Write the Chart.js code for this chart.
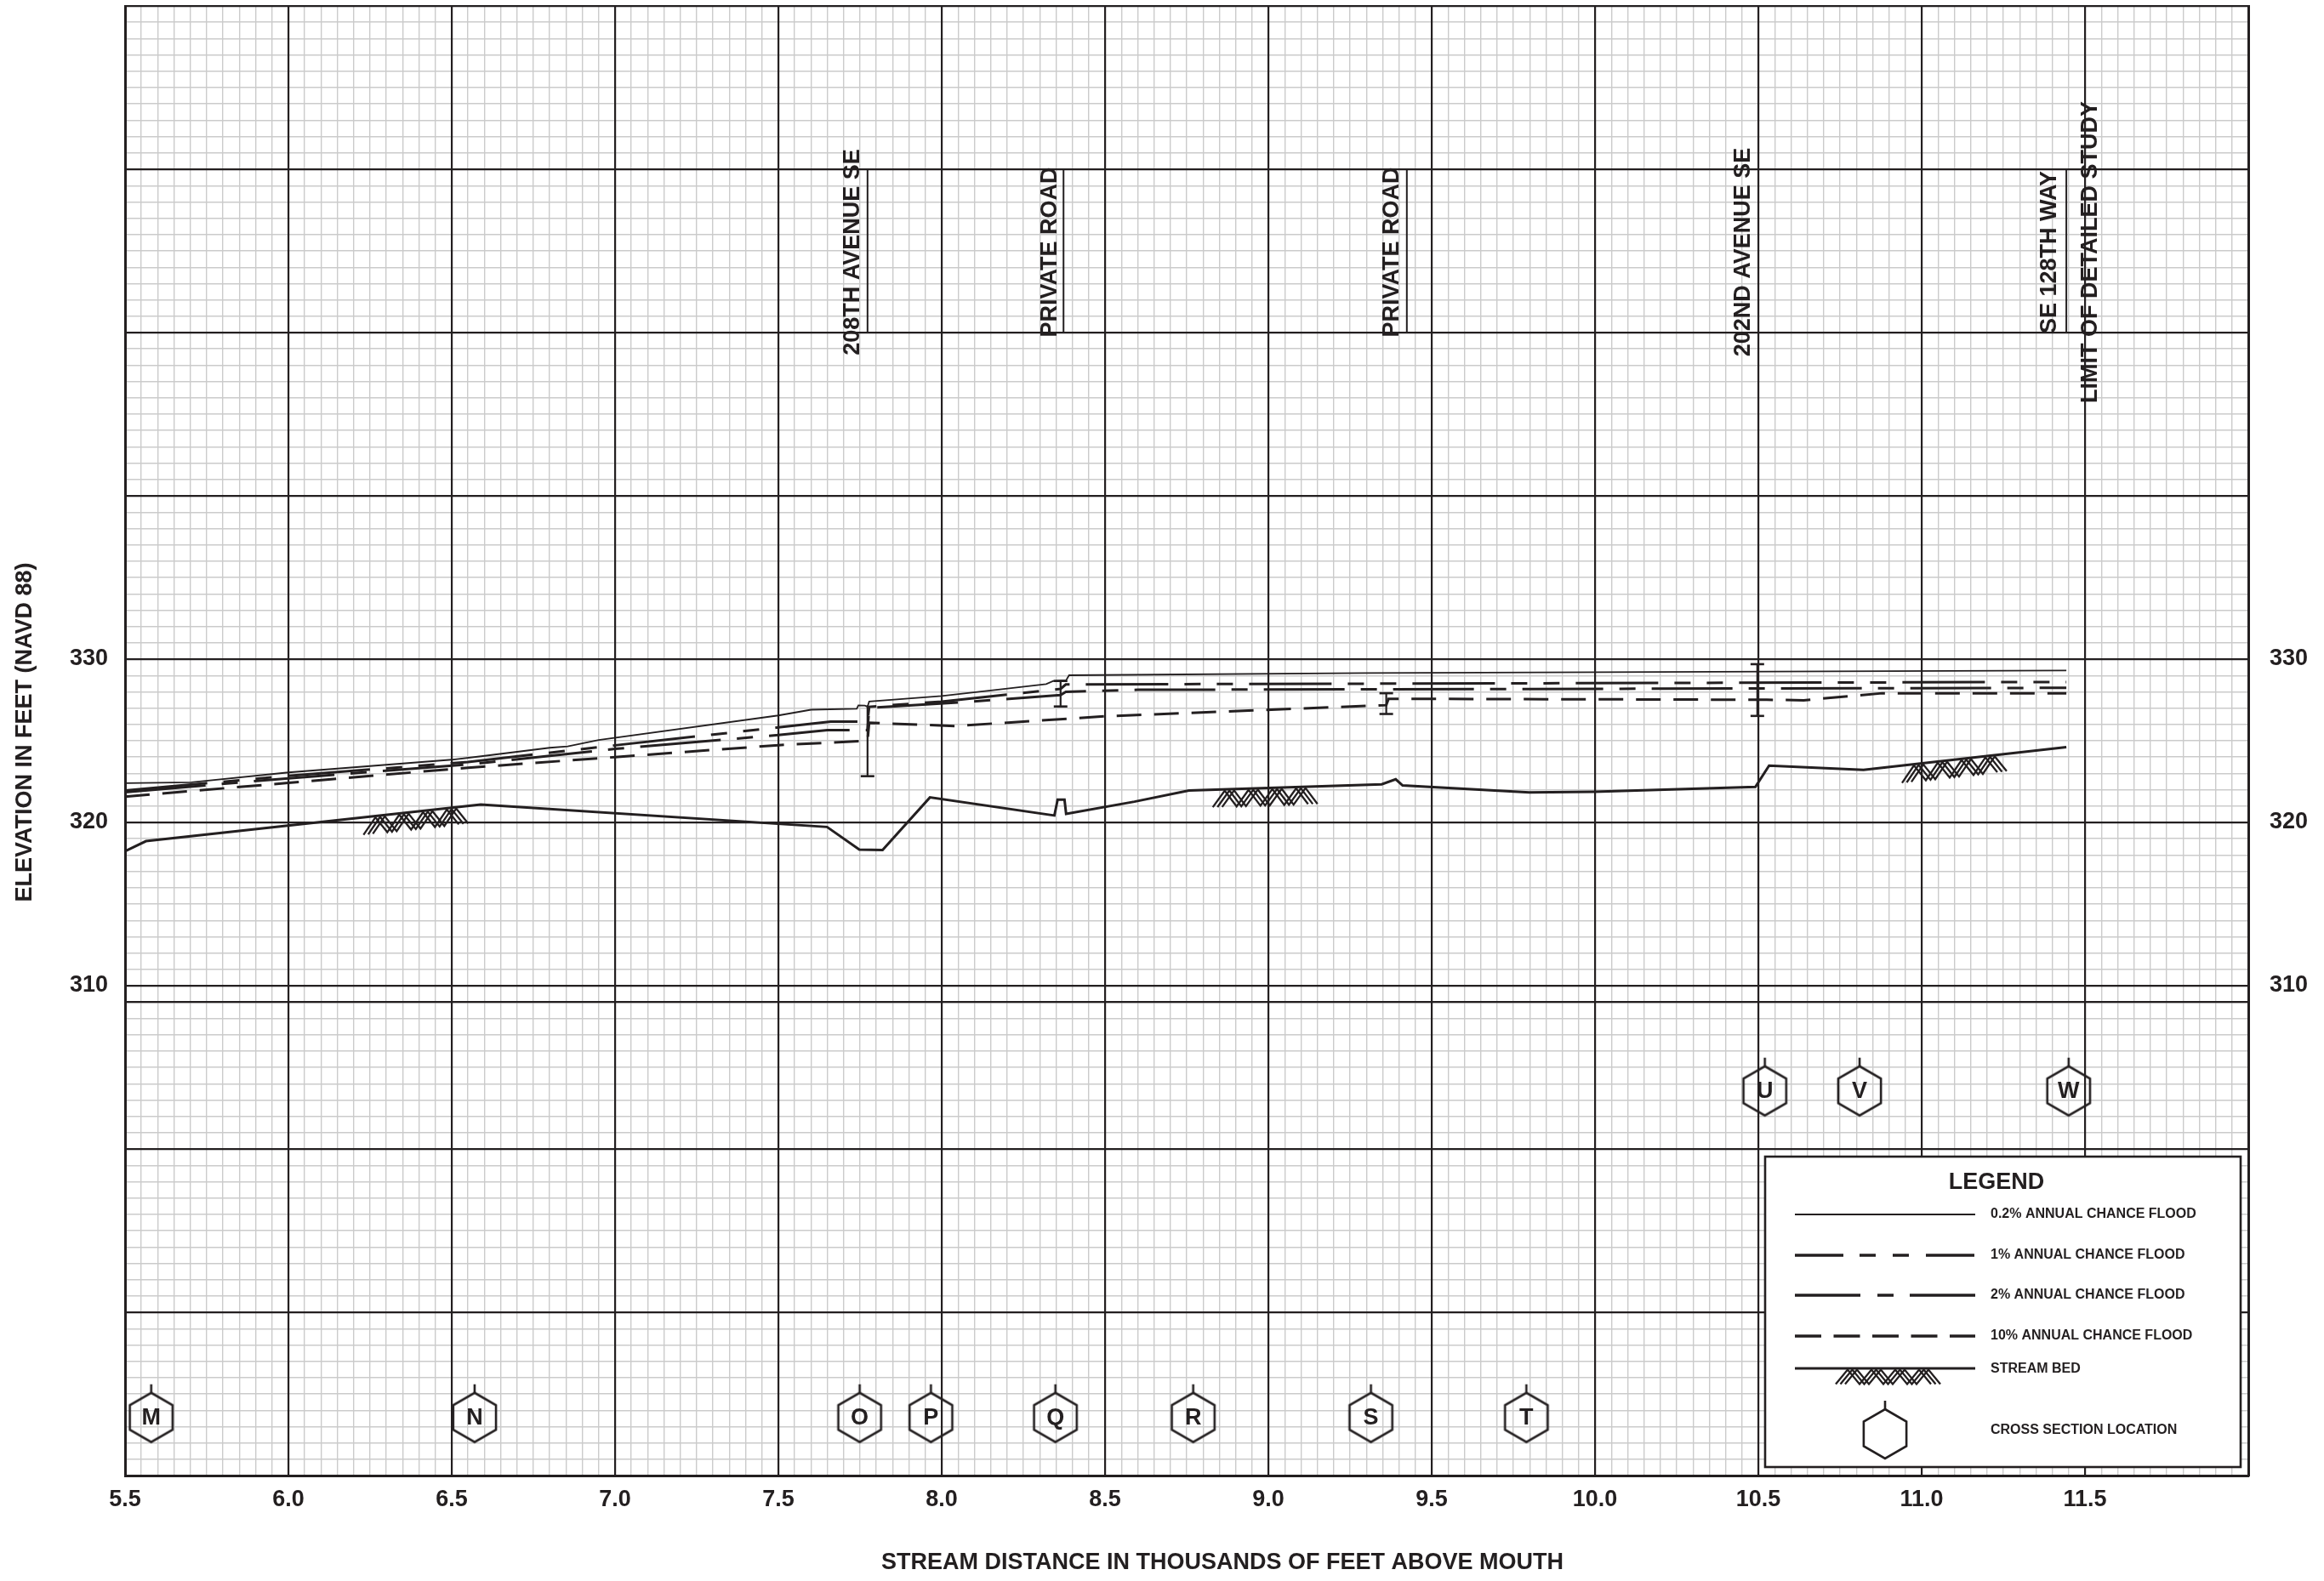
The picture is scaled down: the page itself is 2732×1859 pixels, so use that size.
<!DOCTYPE html>
<html><head><meta charset="utf-8">
<script src="https://cdn.jsdelivr.net/npm/chart.js"></script>
<style>html,body{margin:0;padding:0;background:#fff;}canvas{display:block;}</style>
</head><body>
<canvas id="c" width="2732" height="1859"></canvas>
<script>
// ---------------- DATA ----------------
const xTickLabels = ['5.5','6.0','6.5','7.0','7.5','8.0','8.5','9.0','9.5','10.0','10.5','11.0','11.5'];
const yTickLabels = [310, 320, 330];
const yMajorLines = [280, 290, 300, 309, 310, 320, 330, 340, 350, 360, 370];

const bedX = [5.5, 5.564, 6.589, 7.649, 7.748, 7.819, 7.964, 8.345, 8.355, 8.376, 8.381, 8.59, 8.757, 9.347, 9.39, 9.411, 9.799, 9.997, 10.491, 10.533, 10.822, 11.443];
const bedY = [318.23, 318.85, 321.09, 319.72, 318.33, 318.31, 321.53, 320.42, 321.39, 321.39, 320.52, 321.27, 321.95, 322.33, 322.64, 322.26, 321.83, 321.88, 322.17, 323.48, 323.22, 324.61];

const flood02X = [5.5, 5.703, 6.0, 6.5, 6.59, 6.8, 6.855, 6.95, 7.5, 7.6, 7.74, 7.745, 7.765, 7.773, 7.778, 8.0, 8.173, 8.32, 8.342, 8.381, 8.39, 9.3, 11.443];
const flood02Y = [322.40, 322.45, 323.06, 323.84, 324.05, 324.57, 324.66, 325.04, 326.55, 326.90, 326.96, 327.17, 327.15, 327.08, 327.40, 327.74, 328.13, 328.47, 328.66, 328.70, 329.01, 329.15, 329.30];

const flood1X = [5.5, 6.0, 6.55, 7.0, 7.5, 7.66, 7.773, 7.778, 8.0, 8.364, 8.38, 11.443];
const flood1Y = [321.95, 322.85, 323.70, 324.72, 325.82, 326.17, 326.17, 327.08, 327.40, 328.18, 328.45, 328.60];

const flood2X = [5.5, 6.0, 6.55, 7.0, 7.5, 7.65, 7.773, 7.778, 8.094, 8.32, 8.364, 8.38, 8.6, 11.443];
const flood2Y = [321.85, 322.70, 323.55, 324.50, 325.35, 325.65, 325.65, 327.02, 327.40, 327.74, 327.80, 328.00, 328.12, 328.24];

const flood10X = [5.5, 6.0, 6.55, 7.0, 7.5, 7.773, 7.778, 8.04, 8.5, 9.361, 9.368, 10.526, 10.639, 10.879, 11.443];
const flood10Y = [321.58, 322.42, 323.35, 324.00, 324.73, 325.00, 326.10, 325.90, 326.50, 327.18, 327.57, 327.51, 327.48, 327.91, 327.91];

const bridgeX = [7.773, 8.364, 9.361, 10.497];
const bridgeTop = [327.17, 328.66, 327.91, 329.69];
const bridgeBottom = [322.83, 327.10, 326.64, 326.52];
const bridgeTopCap = [false, true, true, true];

const sectionLetters = ['M','N','O','P','Q','R','S','T','U','V','W'];
const sectionX = [5.58, 6.57, 7.749, 7.967, 8.348, 8.77, 9.314, 9.79, 10.52, 10.81, 11.45];
const sectionY = [283.56, 283.56, 283.56, 283.56, 283.56, 283.56, 283.56, 283.56, 303.56, 303.56, 303.56];

const roadNames = ['208TH AVENUE SE', 'PRIVATE ROAD', 'PRIVATE ROAD', '202ND AVENUE SE', 'SE 128TH WAY', 'LIMIT OF DETAILED STUDY'];
const roadX = [7.773, 8.373, 9.424, 10.5, 11.443, 11.5];
const roadMarkBottom = 350, roadMarkTop = 360, roadLabelElev = 354.92;

const hatchStartX = [6.23, 8.83, 10.94];

const legendLabels = ['0.2% ANNUAL CHANCE FLOOD', '1% ANNUAL CHANCE FLOOD', '2% ANNUAL CHANCE FLOOD', '10% ANNUAL CHANCE FLOOD', 'STREAM BED', 'CROSS SECTION LOCATION'];

const xAxisTitle = 'STREAM DISTANCE IN THOUSANDS OF FEET ABOVE MOUTH';
const yAxisTitle = 'ELEVATION IN FEET (NAVD 88)';

// ---------------- STYLE ----------------
const INK = '#231f20';
const MINOR = '#cbcbcb';
const FONT = "'Liberation Sans', Arial, Helvetica, sans-serif";
const DASH1 = [97, 19, 19, 19, 19, 19];
const DASH2 = [95, 19, 19, 19];
const DASH10 = [29, 15];
const roadLabelShift = [-10, -8, -10, -10, -12, 14]; // px from mark line to text baseline

Chart.defaults.font.family = FONT;
Chart.defaults.color = INK;

function pts(xs, ys) { return xs.map((x, i) => ({x: x, y: ys[i]})); }

function hexImage() {
  const c = document.createElement('canvas');
  c.width = 64; c.height = 88;
  const g = c.getContext('2d');
  const cx = 32, cy = 44, R = 29;
  g.strokeStyle = INK; g.lineWidth = 2.6; g.lineJoin = 'miter';
  g.beginPath();
  for (let k = 0; k < 6; k++) {
    const a = -Math.PI / 2 + k * Math.PI / 3;
    const px = cx + R * Math.cos(a), py = cy + R * Math.sin(a);
    if (k) g.lineTo(px, py); else g.moveTo(px, py);
  }
  g.closePath(); g.stroke();
  g.beginPath(); g.moveTo(cx, cy - R); g.lineTo(cx, cy - R - 10); g.stroke();
  return c;
}
const HEX = hexImage();

function lineDs(label, xs, ys, width, dash) {
  return {label: label, data: pts(xs, ys), showLine: true, borderColor: INK, borderWidth: width,
          borderDash: dash || [], pointRadius: 0, tension: 0, fill: false, borderCapStyle: 'butt', borderJoinStyle: 'miter'};
}

const datasets = [];
datasets.push(lineDs('Stream bed', bedX, bedY, 3));
datasets.push(lineDs('0.2%', flood02X, flood02Y, 1.8));
datasets.push(lineDs('1%', flood1X, flood1Y, 3, DASH1));
datasets.push(lineDs('2%', flood2X, flood2Y, 3, DASH2));
datasets.push(lineDs('10%', flood10X, flood10Y, 3, DASH10));
bridgeX.forEach((bx, i) => {
  datasets.push({label: 'bridge' + i, data: [{x: bx, y: bridgeTop[i]}, {x: bx, y: bridgeBottom[i]}],
    showLine: true, borderColor: INK, borderWidth: 2.2, pointStyle: 'line',
    pointRadius: [bridgeTopCap[i] ? 8 : 0, 8], pointBorderColor: INK, pointBorderWidth: 2.6});
});
roadX.forEach((rx, i) => {
  datasets.push({label: 'road' + i, data: [{x: rx, y: roadMarkBottom}, {x: rx, y: roadMarkTop}],
    showLine: true, borderColor: INK, borderWidth: 2, pointRadius: 0});
});
datasets.push({label: 'sections', data: pts(sectionX, sectionY), showLine: false,
  pointStyle: HEX, pointRadius: 5, pointBorderWidth: 0});

function bedAt(xv) {
  if (xv <= bedX[0]) return bedY[0];
  for (let i = 1; i < bedX.length; i++) {
    if (xv <= bedX[i]) {
      const t = (xv - bedX[i - 1]) / (bedX[i] - bedX[i - 1]);
      return bedY[i - 1] + t * (bedY[i] - bedY[i - 1]);
    }
  }
  return bedY[bedY.length - 1];
}

function drawHatch(ctx, x0, yAt, period, amp, peaks) {
  ctx.save();
  ctx.strokeStyle = INK; ctx.lineWidth = 2.3; ctx.lineJoin = 'miter'; ctx.lineCap = 'butt';
  for (let s = 0; s < 3; s++) {
    const off = s * 5.5;
    ctx.beginPath();
    for (let k = 0; k <= peaks * 2; k++) {
      const px = x0 + off + k * period / 2;
      const py = yAt(px) + (k % 2 === 0 ? amp : 0) + 1.5;
      if (k) ctx.lineTo(px, py); else ctx.moveTo(px, py);
    }
    ctx.stroke();
  }
  ctx.restore();
}

const decorPlugin = {
  id: 'decor',
  afterDatasetsDraw(chart) {
    const ctx = chart.ctx, xs = chart.scales.x, ys = chart.scales.y;
    hatchStartX.forEach(hx => {
      drawHatch(ctx, xs.getPixelForValue(hx), px => ys.getPixelForValue(bedAt(xs.getValueForPixel(px))), 28, 19, 4);
    });
    ctx.save();
    ctx.fillStyle = INK; ctx.font = 'bold 27px ' + FONT; ctx.textAlign = 'center'; ctx.textBaseline = 'middle';
    sectionLetters.forEach((l, i) => {
      ctx.fillText(l, xs.getPixelForValue(sectionX[i]), ys.getPixelForValue(sectionY[i]) + 1);
    });
    ctx.restore();
    ctx.save();
    ctx.fillStyle = INK; ctx.font = 'bold 27px ' + FONT; ctx.textAlign = 'center'; ctx.textBaseline = 'alphabetic';
    roadNames.forEach((name, i) => {
      ctx.save();
      ctx.translate(xs.getPixelForValue(roadX[i]) + roadLabelShift[i], ys.getPixelForValue(roadLabelElev));
      ctx.rotate(-Math.PI / 2);
      ctx.fillText(name, 0, 0);
      ctx.restore();
    });
    ctx.restore();
  },
  afterDraw(chart) {
    const ctx = chart.ctx;
    ctx.save();
    ctx.fillStyle = INK; ctx.font = 'bold 27px ' + FONT; ctx.textAlign = 'center'; ctx.textBaseline = 'middle';
    ctx.fillText(xAxisTitle, 1437, 1838);
    ctx.translate(30, 861); ctx.rotate(-Math.PI / 2);
    ctx.fillText(yAxisTitle, 0, 0);
    ctx.restore();
    const bx = 2075, by = 1360, bw = 559, bh = 365;
    ctx.save();
    ctx.fillStyle = '#fff'; ctx.fillRect(bx, by, bw, bh);
    ctx.strokeStyle = INK; ctx.lineWidth = 2.6; ctx.strokeRect(bx, by, bw, bh);
    ctx.fillStyle = INK; ctx.textBaseline = 'middle';
    ctx.font = 'bold 27px ' + FONT; ctx.textAlign = 'center';
    ctx.fillText('LEGEND', bx + 272, by + 31);
    const lx0 = bx + 35, lx1 = bx + 247, tx = bx + 265;
    const rowY = [by + 68, by + 116, by + 163, by + 211];
    const widths = [1.8, 3.3, 3.3, 3.3];
    const dashes = [[], [57, 19, 19, 20, 19, 20], [77, 20, 19, 19], [31, 14.5]];
    ctx.font = 'bold 16px ' + FONT; ctx.textAlign = 'left';
    for (let r = 0; r < 4; r++) {
      ctx.save();
      ctx.strokeStyle = INK; ctx.lineWidth = widths[r]; ctx.setLineDash(dashes[r]); ctx.lineCap = 'butt';
      ctx.beginPath(); ctx.moveTo(lx0, rowY[r]); ctx.lineTo(lx1, rowY[r]); ctx.stroke();
      ctx.restore();
      ctx.fillText(legendLabels[r], tx, rowY[r]);
    }
    const bedRow = by + 249;
    ctx.save();
    ctx.strokeStyle = INK; ctx.lineWidth = 3;
    ctx.beginPath(); ctx.moveTo(lx0, bedRow); ctx.lineTo(lx1, bedRow); ctx.stroke();
    ctx.restore();
    drawHatch(ctx, bx + 83, () => bedRow, 28, 17, 4);
    ctx.fillText(legendLabels[4], tx, bedRow + 1);
    const hexRow = by + 326;
    ctx.drawImage(HEX, bx + 141 - HEX.width / 2, hexRow - HEX.height / 2);
    ctx.fillText(legendLabels[5], tx, hexRow - 4);
    ctx.restore();
  }
};

function xLabel(v) {
  const s = Number(v).toFixed(1);
  return xTickLabels.includes(s) ? s : '';
}
function yLabel(v) {
  return yTickLabels.includes(Math.round(v)) && Math.abs(v - Math.round(v)) < 1e-6 ? String(Math.round(v)) : '';
}
const setYTicks = s => { s.ticks = yMajorLines.slice().sort((a, b) => a - b).map(v => ({value: v})); };

new Chart(document.getElementById('c'), {
  type: 'scatter',
  data: {datasets: datasets},
  options: {
    responsive: false, animation: false, events: [],
    layout: {autoPadding: false, padding: {top: 7, left: 0, right: 0, bottom: 0}},
    plugins: {legend: {display: false}, tooltip: {enabled: false}},
    scales: {
      xMinor: {type: 'linear', axis: 'x', position: 'bottom', min: 5.5, max: 12,
        ticks: {stepSize: 0.05, display: false, autoSkip: false},
        grid: {color: MINOR, lineWidth: 1.4, drawTicks: false, z: -2}, border: {display: false},
        afterFit(s) { s.height = 0; s.paddingLeft = 0; s.paddingRight = 0; }},
      yMinor: {type: 'linear', axis: 'y', position: 'left', min: 280, max: 370,
        ticks: {stepSize: 1, display: false, autoSkip: false},
        grid: {color: MINOR, lineWidth: 1.4, drawTicks: false, z: -2}, border: {display: false},
        afterFit(s) { s.width = 0; s.paddingTop = 0; s.paddingBottom = 0; }},
      x: {type: 'linear', axis: 'x', position: 'bottom', min: 5.5, max: 12,
        ticks: {stepSize: 0.5, autoSkip: false, maxRotation: 0, minRotation: 0, padding: 12,
          font: {size: 27, weight: 'bold'}, color: INK, callback: xLabel},
        grid: {color: INK, lineWidth: 2.2, drawTicks: false, z: -1},
        border: {display: true, color: INK, width: 3},
        title: {display: false, text: xAxisTitle},
        afterFit(s) { s.height = 124; s.paddingLeft = 0; s.paddingRight = 0; }},
      y: {type: 'linear', axis: 'y', position: 'left', min: 280, max: 370,
        afterBuildTicks: setYTicks,
        ticks: {autoSkip: false, padding: 20, font: {size: 27, weight: 'bold'}, color: INK, callback: yLabel},
        grid: {color: INK, lineWidth: 2.2, drawTicks: false, z: -1},
        border: {display: true, color: INK, width: 3},
        title: {display: false, text: yAxisTitle},
        afterFit(s) { s.width = 147; s.paddingTop = 0; s.paddingBottom = 0; }},
      yRight: {type: 'linear', axis: 'y', position: 'right', min: 280, max: 370,
        afterBuildTicks: setYTicks,
        ticks: {autoSkip: false, padding: 25, font: {size: 27, weight: 'bold'}, color: INK, callback: yLabel},
        grid: {display: false, drawTicks: false},
        border: {display: true, color: INK, width: 3},
        afterFit(s) { s.width = 89; s.paddingTop = 0; s.paddingBottom = 0; }}
    }
  },
  plugins: [decorPlugin]
});
</script>
</body></html>
